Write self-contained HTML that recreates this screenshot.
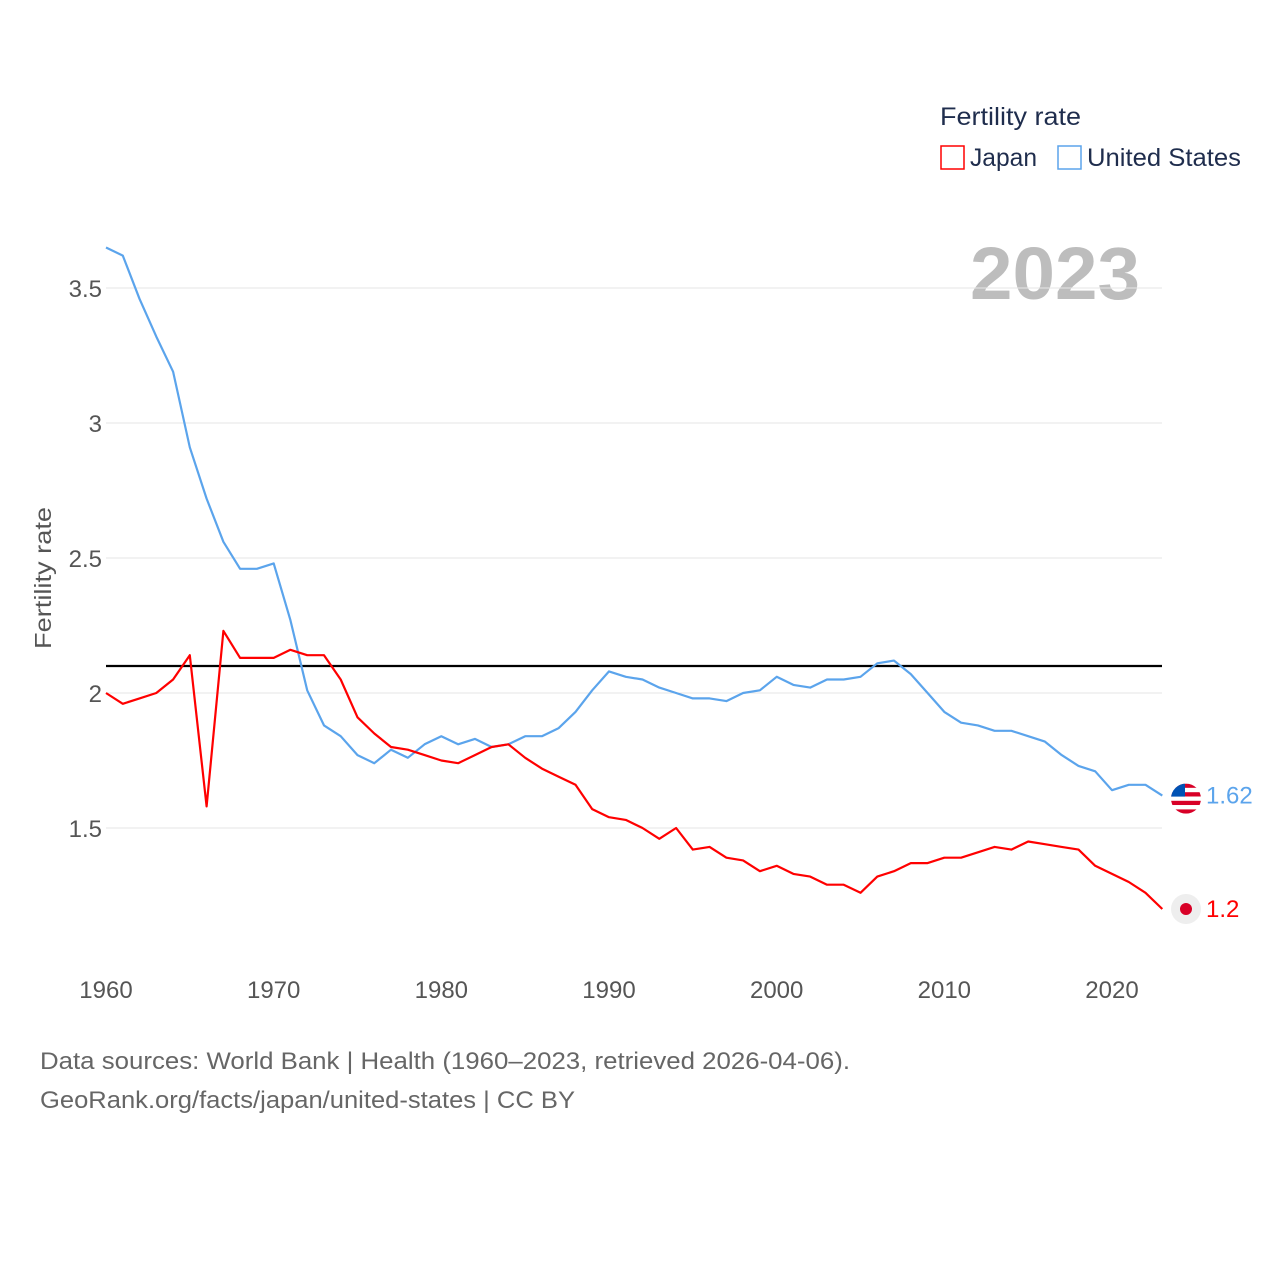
<!DOCTYPE html>
<html><head><meta charset="utf-8"><style>
html,body{margin:0;padding:0;background:#fff;}
body{width:1280px;height:1280px;overflow:hidden;font-family:"Liberation Sans",sans-serif;}
</style></head><body>
<svg width="1280" height="1280" viewBox="0 0 1280 1280" id="chart" xmlns="http://www.w3.org/2000/svg">
<text x="940" y="125" font-size="25" fill="#1f2d4d" textLength="141" lengthAdjust="spacingAndGlyphs">Fertility rate</text>
<g>
<rect x="941" y="146" width="23" height="23" fill="none" stroke="#ff0000" stroke-width="1.5"/>
<text x="970" y="166" font-size="25" fill="#1f2d4d" textLength="67" lengthAdjust="spacingAndGlyphs">Japan</text></g>
<g>
<rect x="1058" y="146" width="23" height="23" fill="none" stroke="#5ba4ec" stroke-width="1.5"/>
<text x="1087" y="166" font-size="25" fill="#1f2d4d" textLength="154" lengthAdjust="spacingAndGlyphs">United States</text></g>
<text x="970" y="299" font-size="74" font-weight="bold" fill="#bdbdbd" textLength="170" lengthAdjust="spacingAndGlyphs">2023</text>
<text transform="translate(51,578) rotate(-90)" font-size="23" fill="#555" text-anchor="middle" textLength="142" lengthAdjust="spacingAndGlyphs">Fertility rate</text>
<g id="grid"></g><g id="lines"></g>
<text x="40" y="1069" font-size="24" fill="#666" textLength="810" lengthAdjust="spacingAndGlyphs">Data sources: World Bank | Health (1960–2023, retrieved 2026-04-06).</text>
<text x="40" y="1108" font-size="24" fill="#666" textLength="535" lengthAdjust="spacingAndGlyphs">GeoRank.org/facts/japan/united-states | CC BY</text>
</svg>
<script>
const years=[];for(let y=1960;y<=2023;y++)years.push(y);
const japan=[2.00,1.96,1.98,2.00,2.05,2.14,1.58,2.23,2.13,2.13,2.13,2.16,2.14,2.14,2.05,1.91,1.85,1.80,1.79,1.77,1.75,1.74,1.77,1.80,1.81,1.76,1.72,1.69,1.66,1.57,1.54,1.53,1.50,1.46,1.50,1.42,1.43,1.39,1.38,1.34,1.36,1.33,1.32,1.29,1.29,1.26,1.32,1.34,1.37,1.37,1.39,1.39,1.41,1.43,1.42,1.45,1.44,1.43,1.42,1.36,1.33,1.30,1.26,1.20];
const usa=[3.65,3.62,3.46,3.32,3.19,2.91,2.72,2.56,2.46,2.46,2.48,2.27,2.01,1.88,1.84,1.77,1.74,1.79,1.76,1.81,1.84,1.81,1.83,1.80,1.81,1.84,1.84,1.87,1.93,2.01,2.08,2.06,2.05,2.02,2.00,1.98,1.98,1.97,2.00,2.01,2.06,2.03,2.02,2.05,2.05,2.06,2.11,2.12,2.07,2.00,1.93,1.89,1.88,1.86,1.86,1.84,1.82,1.77,1.73,1.71,1.64,1.66,1.66,1.62];
const yTicks=[1.5,2,2.5,3,3.5];
const yTickLabels=["1.5","2","2.5","3","3.5"];
const xTicks=[1960,1970,1980,1990,2000,2010,2020];
const refValue=2.1;
const NS="http://www.w3.org/2000/svg";
const X=v=>106+(v-1960)*(1006/60);
const Y=v=>693-(v-2)*270;
function mk(t,a,p){const e=document.createElementNS(NS,t);for(const k in a)e.setAttribute(k,a[k]);p.appendChild(e);return e;}
const grid=document.getElementById('grid'),lines=document.getElementById('lines');
yTicks.forEach((t,i)=>{
 const l=mk('line',{x1:106,x2:1162,y1:Y(t),y2:Y(t),stroke:'#e6e6e6','stroke-width':1},grid);
 
 
 const tx=mk('text',{x:102,y:Y(t)+9,'font-size':24,fill:'#555','text-anchor':'end'},grid);
 tx.textContent=yTickLabels[i];
 
 
});
xTicks.forEach(t=>{
 const tx=mk('text',{x:X(t),y:998,'font-size':24,fill:'#555','text-anchor':'middle'},grid);
 tx.textContent=t;
 
 
});
const ref=mk('line',{x1:106,x2:1162,y1:Y(refValue),y2:Y(refValue),stroke:'#000','stroke-width':2.2},lines);


function series(vals,col,name){
 const d=vals.map((v,i)=>(i?'L':'M')+X(years[i]).toFixed(1)+','+Y(v).toFixed(1)).join(' ');
 const p=mk('path',{d:d,fill:'none',stroke:col,'stroke-width':2.2,'stroke-linejoin':'round'},lines);
 
 
}
series(usa,'#5ba4ec','us-line');
series(japan,'#ff0000','japan-line');
const uy=Y(usa[usa.length-1]),jy=Y(japan[japan.length-1]);
const ug=mk('g',{},lines);


const cp=mk('clipPath',{id:'uc'},ug);
mk('circle',{cx:1186,cy:uy+3,r:15},cp);
const fg=mk('g',{'clip-path':'url(#uc)'},ug);
for(let i=0;i<7;i++)mk('rect',{x:1170,y:uy-12+i*4.3,width:32,height:4.3,fill:i%2?'#fff':'#d80027'},fg);
mk('rect',{x:1170,y:uy-12,width:15,height:13,fill:'#0052b4'},fg);
const ut=mk('text',{x:1206,y:uy+8,'font-size':24,fill:'#5ba4ec'},lines);
ut.textContent=usa[usa.length-1];


const jg=mk('g',{},lines);


mk('circle',{cx:1186,cy:jy,r:15,fill:'#eeeeee'},jg);
mk('circle',{cx:1186,cy:jy,r:6,fill:'#d80027'},jg);
const jt=mk('text',{x:1206,y:jy+8,'font-size':24,fill:'#ff0000'},lines);
jt.textContent=japan[japan.length-1].toString();


</script>
</body></html>
